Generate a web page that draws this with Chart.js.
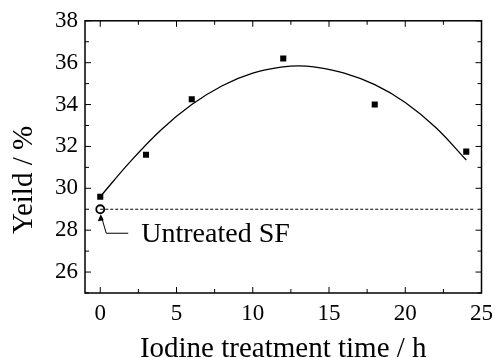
<!DOCTYPE html>
<html>
<head>
<meta charset="utf-8">
<script src="https://cdn.jsdelivr.net/npm/chart.js@4/dist/chart.umd.min.js"></script>
<style>
  html, body { margin: 0; padding: 0; background: #fff; }
  #wrap { width: 500px; height: 358px; }
</style>
</head>
<body>
<div id="wrap"><canvas id="c"></canvas></div>
<script>
// measured yield vs iodine treatment time
var timeH = [0, 3, 6, 12, 18, 24];
var yieldPct = [29.6, 31.6, 34.25, 36.2, 34.0, 31.75];

// fitted curve
var fitTime = [0, 2, 4, 6, 8, 10, 12, 13, 14, 16, 18, 20, 22, 24];
var fitYield = [29.6, 31.3, 32.8, 34.0, 34.9, 35.5, 35.8, 35.85, 35.8, 35.5, 34.95, 34.1, 32.9, 31.35];

// untreated SF reference
var untreatedTime = [0];
var untreatedYield = [29.0];
var refLineTime = [0, 24.6];
var refLineYield = [29.0, 29.0];

var xTicks = [0, 5, 10, 15, 20, 25];
var xMinor = [2.5, 7.5, 12.5, 17.5, 22.5];
var yTicks = [26, 28, 30, 32, 34, 36, 38];
var yMinor = [25, 27, 29, 31, 33, 35, 37];

var serif = "'Liberation Serif', 'Times New Roman', serif";

function pts(xs, ys) {
	return xs.map(function(x, i){ return {x: x, y: ys[i]}; });
}

var frame = {
	id: "frame",
	afterDraw: function(chart){
		var ctx = chart.ctx;
		var a = chart.chartArea;
		var xs = chart.scales.x, ys = chart.scales.y;
		ctx.save();
		ctx.strokeStyle = "#000";
		ctx.lineWidth = 1.5;
		ctx.strokeRect(a.left, a.top, a.right - a.left, a.bottom - a.top);

		ctx.lineWidth = 1;
		ctx.beginPath();
		xTicks.concat(xMinor).forEach(function(v){
			var len = xTicks.indexOf(v) >= 0 ? 6 : 4;
			var px = xs.getPixelForValue(v);
			ctx.moveTo(px, a.bottom); ctx.lineTo(px, a.bottom - len);
			ctx.moveTo(px, a.top); ctx.lineTo(px, a.top + len);
		});
		yTicks.concat(yMinor).forEach(function(v){
			var len = yTicks.indexOf(v) >= 0 ? 6 : 4;
			var py = ys.getPixelForValue(v);
			ctx.moveTo(a.left, py); ctx.lineTo(a.left + len, py);
			ctx.moveTo(a.right, py); ctx.lineTo(a.right - len, py);
		});
		ctx.stroke();

		// leader to the untreated point
		var cx = xs.getPixelForValue(untreatedTime[0]);
		var cy = ys.getPixelForValue(untreatedYield[0]);
		ctx.beginPath();
		ctx.moveTo(cx + 1, cy + 7);
		ctx.lineTo(cx + 6, cy + 24);
		ctx.lineTo(cx + 28, cy + 24);
		ctx.stroke();
		ctx.beginPath();
		ctx.moveTo(cx + 0.5, cy + 5);
		ctx.lineTo(cx - 2.5, cy + 12);
		ctx.lineTo(cx + 3.5, cy + 11);
		ctx.closePath();
		ctx.fillStyle = "#000";
		ctx.fill();

		ctx.fillStyle = "#000";
		ctx.font = "28px " + serif;
		ctx.textAlign = "left";
		ctx.textBaseline = "alphabetic";
		ctx.fillText("Untreated SF", cx + 41, cy + 33);

		// axis titles
		ctx.font = "29px " + serif;
		ctx.textAlign = "center";
		ctx.fillText("Iodine treatment time / h", (a.left + a.right) / 2, 357);
		ctx.translate(32, 180);
		ctx.rotate(-Math.PI / 2);
		ctx.fillText("Yeild / %", 0, 0);
		ctx.restore();
	}
};

new Chart(document.getElementById("c"), {
	type: "scatter",
	data: {
		datasets: [
			{
				data: pts(refLineTime, refLineYield),
				showLine: true,
				borderColor: "#000",
				borderWidth: 1,
				borderDash: [3, 2],
				pointRadius: 0
			},
			{
				data: pts(fitTime, fitYield),
				showLine: true,
				borderColor: "#000",
				borderWidth: 1.3,
				tension: 0.4,
				pointRadius: 0
			},
			{
				data: pts(timeH, yieldPct),
				pointStyle: "rect",
				pointRadius: 4.3,
				backgroundColor: "#000",
				borderColor: "#000",
				borderWidth: 0
			},
			{
				data: pts(untreatedTime, untreatedYield),
				pointStyle: "circle",
				pointRadius: 4,
				backgroundColor: "#fff",
				borderColor: "#000",
				borderWidth: 1.8
			}
		]
	},
	options: {
		responsive: true,
		maintainAspectRatio: false,
		animation: false,
		layout: { padding: { left: 0, right: 12, top: 20, bottom: 0 } },
		plugins: { legend: { display: false }, tooltip: { enabled: false } },
		scales: {
			x: {
				type: "linear",
				min: -1,
				max: 25,
				grid: { display: false, drawTicks: false },
				border: { display: false },
				afterBuildTicks: function(s){ s.ticks = xTicks.map(function(v){ return {value: v}; }); },
				afterFit: function(s){ s.height = 65; },
				ticks: { color: "#000", padding: 7, font: { family: serif, size: 23 } }
			},
			y: {
				type: "linear",
				min: 25,
				max: 38,
				grid: { display: false, drawTicks: false },
				border: { display: false },
				afterBuildTicks: function(s){ s.ticks = yTicks.map(function(v){ return {value: v}; }); },
				afterFit: function(s){ s.width = 85; },
				ticks: { color: "#000", padding: 7, font: { family: serif, size: 23 } }
			}
		}
	},
	plugins: [frame]
});
</script>
</body>
</html>
